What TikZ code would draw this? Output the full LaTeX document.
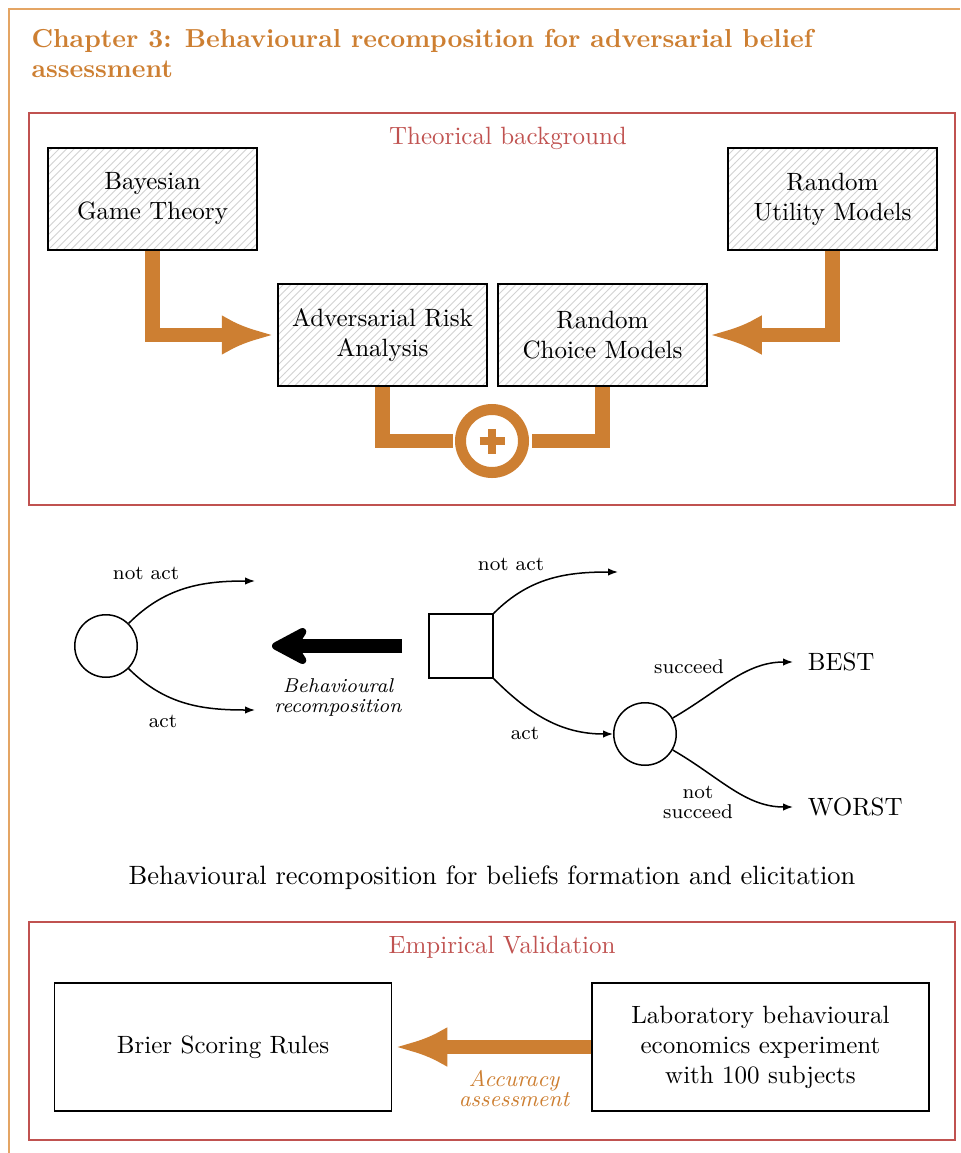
\documentclass[tikz,border=0pt]{standalone}
\usetikzlibrary{arrows.meta,patterns,positioning}

\definecolor{bronze}{RGB}{205,127,50}
\definecolor{sandline}{RGB}{228,165,100}
\definecolor{brick}{RGB}{192,82,80}

\tikzset{
  theory/.style={draw, semithick, pattern=north east lines, pattern color=gray!35,
    minimum width=83.6pt, minimum height=40.8pt, align=center},
  study/.style={draw, semithick, minimum width=134.8pt, minimum height=51.2pt, align=center},
  flow/.style={bronze, line width=5.8pt, -{Latex[length=21pt,width=16pt]}},
  joint/.style={bronze, line width=5.8pt},
  branch/.style={semithick, -{Latex[length=4pt,width=3pt]}},
  chance/.style={draw, semithick, circle, minimum size=25pt, inner sep=0pt},
  decision/.style={draw, semithick, rectangle, minimum size=25.6pt, inner sep=0pt},
  lbl/.style={font=\footnotesize, align=center},
  panel/.style={brick, semithick}
}

\begin{document}
\begin{tikzpicture}[x=0.4pt, y=-0.4pt]
  \useasboundingbox (0,0) rectangle (960,1153);

  % outer frame and title
  \draw[sandline, semithick] (9,1153) -- (9,9) -- (960,9);
  \node[bronze, anchor=north west, inner sep=0pt, align=left,
        font=\fontsize{10.4}{12}\selectfont\bfseries] (title) at (31,29)
    {Chapter 3: Behavioural recomposition for adversarial belief\\assessment};

  % theoretical background
  \draw[panel] (29,113) rectangle (955,505);
  \node[brick] (bgtitle) at (508,138) {Theorical background};

  \node[theory] (bgt) at (152.5,199) {Bayesian\\Game Theory};
  \node[theory] (rum) at (832.5,199) {Random\\Utility Models};
  \node[theory] (ara) at (382.5,335) {Adversarial Risk\\Analysis};
  \node[theory] (rcm) at (602.5,335) {Random\\Choice Models};

  \draw[flow, shorten >=1.2pt] (bgt.south) |- (ara.west);
  \draw[flow, shorten >=0.6pt] (rum.south) |- (rcm.east);

  \node[circle, draw=bronze, line width=4.4pt, minimum size=25.2pt, inner sep=0pt] (plus) at (492,441) {};
  \draw[bronze, line width=3.2pt] ([xshift=-5pt]plus.center) -- ([xshift=5pt]plus.center);
  \draw[bronze, line width=3.2pt] ([yshift=-5pt]plus.center) -- ([yshift=5pt]plus.center);
  \draw[joint, shorten >=1pt] (ara.south) |- (plus.west);
  \draw[joint, shorten >=1pt] (rcm.south) |- (plus.east);

  % simplified tree
  \node[chance] (attack) at (106,646) {};
  \coordinate (noact1) at (255,581);
  \coordinate (act1) at (255,710);
  \draw[branch] (attack.north east) to[out=45,in=180] (noact1);
  \draw[branch] (attack.south east) to[out=-45,in=180] (act1);
  \node[lbl] (noactlbl1) at (146,573) {not act};
  \node[lbl] (actlbl1) at (163,721) {act};

  \coordinate (recstart) at (402,646);
  \coordinate (recend) at (272,646);
  \draw[line width=5.8pt, -{Stealth[round,length=18pt,width=19pt]}] (recstart) -- (recend);
  \node[lbl, font=\footnotesize\itshape] (reclbl) at (338,697) {Behavioural\\[-1.5pt]recomposition};

  % full tree
  \node[decision] (attacker) at (461,646) {};
  \node[chance] (outcome) at (645,734) {};
  \coordinate (noact2) at (618,572);
  \node[anchor=west] (best) at (799,662) {BEST};
  \node[anchor=west] (worst) at (799,807) {WORST};
  \draw[branch] (attacker.north east) to[out=45,in=180] (noact2);
  \draw[branch] (attacker.south east) to[out=-45,in=180] (outcome.west);
  \draw[branch, shorten >=2.4pt] (outcome.30) to[out=30,in=180] (best.west);
  \draw[branch, shorten >=2.4pt] (outcome.-30) to[out=-30,in=180] (worst.west);
  \node[lbl] (noactlbl2) at (511,564) {not act};
  \node[lbl] (actlbl2) at (525,733) {act};
  \node[lbl] (succlbl) at (689,667) {succeed};
  \node[lbl] (failbl) at (698,802) {not\\[-1.5pt]succeed};

  \node[font=\fontsize{10.6}{12.7}\selectfont] (caption) at (492,878) {Behavioural recomposition for beliefs formation and elicitation};

  % empirical validation
  \draw[panel] (29,922) rectangle (955,1140);
  \node[brick] (evtitle) at (502,947) {Empirical Validation};
  \node[study] (brier) at (223,1047) {Brier Scoring Rules};
  \node[study] (lab) at (760.5,1047) {Laboratory behavioural\\economics experiment\\with 100 subjects};
  \draw[flow, shorten >=1pt] (lab.west) -- (brier.east);
  \node[bronze, font=\small\itshape, align=center] (acclbl) at (514,1089) {Accuracy\\[-3pt]assessment};
\end{tikzpicture}
\end{document}
